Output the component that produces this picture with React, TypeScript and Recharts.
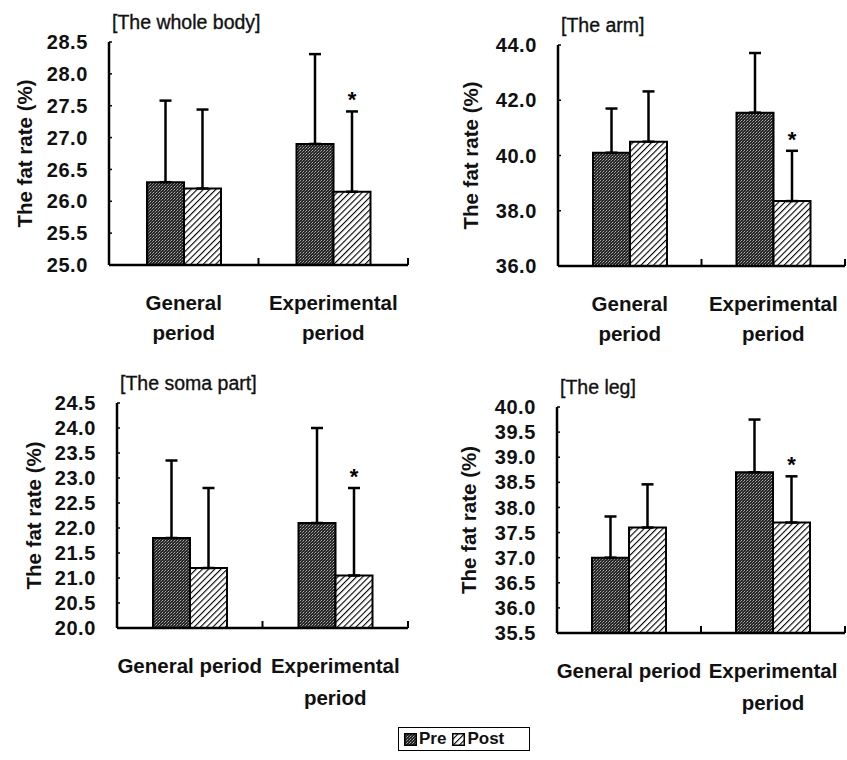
import * as React from "react";
import { BarChart, Bar, XAxis, YAxis, ErrorBar, LabelList } from "recharts";

const FONT = '"Liberation Sans", Arial, Helvetica, sans-serif';

const categories = ["General period", "Experimental period"];
const signif = ["", "*"];

// fat rate (%) means and SD, pre / post
const bodyPre = [26.3, 26.9];
const bodyPreSd = [1.28, 1.41];
const bodyPost = [26.2, 26.15];
const bodyPostSd = [1.24, 1.26];
const bodyTicks = [25.0, 25.5, 26.0, 26.5, 27.0, 27.5, 28.0, 28.5];

const armPre = [40.1, 41.55];
const armPreSd = [1.6, 2.16];
const armPost = [40.5, 38.35];
const armPostSd = [1.82, 1.82];
const armTicks = [36.0, 38.0, 40.0, 42.0, 44.0];

const somaPre = [21.8, 22.1];
const somaPreSd = [1.55, 1.9];
const somaPost = [21.2, 21.05];
const somaPostSd = [1.6, 1.75];
const somaTicks = [20.0, 20.5, 21.0, 21.5, 22.0, 22.5, 23.0, 23.5, 24.0, 24.5];

const legPre = [37.0, 38.7];
const legPreSd = [0.82, 1.05];
const legPost = [37.6, 37.7];
const legPostSd = [0.86, 0.92];
const legTicks = [35.5, 36.0, 36.5, 37.0, 37.5, 38.0, 38.5, 39.0, 39.5, 40.0];

type Panel = {
  title: string;
  pre: number[];
  preSd: number[];
  post: number[];
  postSd: number[];
  ticks: number[];
  wrapFirst: boolean;
  box: { left: number; top: number; width: number; height: number };
  plot: { left: number; right: number; top: number; bottom: number };
  yTitleX: number;
};

const panels: Panel[] = [
  {
    title: "[The whole body]",
    pre: bodyPre, preSd: bodyPreSd, post: bodyPost, postSd: bodyPostSd,
    ticks: bodyTicks, wrapFirst: true,
    box: { left: 0, top: 0, width: 420, height: 360 },
    plot: { left: 109, right: 408, top: 42, bottom: 265 },
    yTitleX: 24,
  },
  {
    title: "[The arm]",
    pre: armPre, preSd: armPreSd, post: armPost, postSd: armPostSd,
    ticks: armTicks, wrapFirst: true,
    box: { left: 420, top: 0, width: 427, height: 360 },
    plot: { left: 138, right: 425, top: 45, bottom: 266 },
    yTitleX: 50,
  },
  {
    title: "[The soma part]",
    pre: somaPre, preSd: somaPreSd, post: somaPost, postSd: somaPostSd,
    ticks: somaTicks, wrapFirst: false,
    box: { left: 0, top: 360, width: 420, height: 360 },
    plot: { left: 117, right: 408, top: 43, bottom: 268 },
    yTitleX: 33,
  },
  {
    title: "[The leg]",
    pre: legPre, preSd: legPreSd, post: legPost, postSd: legPostSd,
    ticks: legTicks, wrapFirst: false,
    box: { left: 420, top: 360, width: 427, height: 360 },
    plot: { left: 137, right: 425, top: 47, bottom: 273 },
    yTitleX: 48,
  },
];

const X_AXIS_H = 80;

function Patterns() {
  return (
    <svg width={0} height={0} style={{ position: "absolute" }}>
      <defs>
        <pattern id="stipple" width={3} height={3} patternUnits="userSpaceOnUse">
          <rect width={3} height={3} fill="#262626" />
          <rect x={0} y={0} width={1} height={1} fill="#b0b0b0" />
          <rect x={2} y={1} width={1} height={1} fill="#8a8a8a" />
          <rect x={1} y={2} width={1} height={1} fill="#5a5a5a" />
        </pattern>
        <pattern
          id="hatch"
          width={4.4}
          height={4.4}
          patternUnits="userSpaceOnUse"
          patternTransform="rotate(45)"
        >
          <rect width={4.4} height={4.4} fill="#fff" />
          <line x1={0} y1={0} x2={0} y2={4.4} stroke="#000" strokeWidth={2.2} />
        </pattern>
      </defs>
    </svg>
  );
}

function FatPanel({ p }: { p: Panel }) {
  const min = p.ticks[0];
  const max = p.ticks[p.ticks.length - 1];
  const plotW = p.plot.right - p.plot.left;
  const plotH = p.plot.bottom - p.plot.top;
  const pxPerUnit = plotH / (max - min);

  const rows = categories.map((name, i) => ({
    name,
    pre: p.pre[i],
    preErr: [0, p.preSd[i]],
    post: p.post[i],
    postErr: [0, p.postSd[i]],
    mark: signif[i],
  }));

  const catTick = (props: any) => {
    const { x, payload, index } = props;
    const y = p.plot.bottom;
    const name: string = payload.value;
    const lines =
      index === 0 && !p.wrapFirst ? [name] : name.split(" ");
    const bx = x + plotW / 4;
    return (
      <g>
        <line x1={bx} y1={y - 7} x2={bx} y2={y} stroke="#000" strokeWidth={2} />
        {lines.map((t, k) => (
          <text
            key={k}
            x={x}
            y={y + 37 + k * (p.wrapFirst ? 30 : 32)}
            textAnchor="middle"
            dominantBaseline="central"
            fontFamily={FONT}
            fontWeight="bold"
            fontSize={20.5}
            fill="#111"
          >
            {t}
          </text>
        ))}
      </g>
    );
  };

  const star = (props: any) => {
    const vb = props.viewBox ?? props;
    const { index, value } = props;
    if (!value) return null;
    const cx = vb.x + vb.width / 2;
    const top = vb.y - p.postSd[index] * pxPerUnit;
    return (
      <text
        x={cx}
        y={top - 4}
        textAnchor="middle"
        fontFamily={FONT}
        fontWeight="bold"
        fontSize={22}
        fill="#000"
      >
        {value}
      </text>
    );
  };

  const yTitle = () => {
    const cy = p.plot.top + plotH / 2;
    return (
      <text
        x={p.yTitleX}
        y={cy}
        transform={`rotate(-90, ${p.yTitleX}, ${cy})`}
        textAnchor="middle"
        dominantBaseline="central"
        fontFamily={FONT}
        fontWeight="bold"
        fontSize={20.5}
        fill="#111"
      >
        The fat rate (%)
      </text>
    );
  };

  return (
    <div
      style={{
        position: "absolute",
        left: p.box.left,
        top: p.box.top,
        width: p.box.width,
        height: p.box.height,
      }}
    >
      <div
        style={{
          position: "absolute",
          left: p.plot.left + 3,
          top: p.plot.top - 31,
          fontFamily: FONT,
          fontSize: 19.5,
          color: "#111",
          whiteSpace: "nowrap",
          lineHeight: "22px",
          WebkitTextStroke: "0.35px #111",
        }}
      >
        {p.title}
      </div>
      <BarChart
        width={p.box.width}
        height={p.box.height}
        data={rows}
        margin={{
          top: p.plot.top,
          right: p.box.width - p.plot.right,
          left: 0,
          bottom: p.box.height - p.plot.bottom - X_AXIS_H,
        }}
        barGap={0}
        barSize={37}
      >
        <XAxis
          dataKey="name"
          height={X_AXIS_H}
          axisLine={{ stroke: "#000", strokeWidth: 2.5 }}
          tickLine={false}
          tickSize={0}
          tickMargin={0}
          tick={catTick}
          interval={0}
        />
        <YAxis
          type="number"
          domain={[min, max]}
          ticks={p.ticks}
          interval={0}
          width={p.plot.left}
          axisLine={{ stroke: "#000", strokeWidth: 2.5 }}
          tickLine={{ stroke: "#000", strokeWidth: 1.5 }}
          tickSize={-3}
          tickMargin={24}
          tickFormatter={(v: number) => v.toFixed(1)}
          tick={{
            fontFamily: FONT,
            fontWeight: "bold",
            fontSize: 20,
            fill: "#111",
            letterSpacing: 0.6,
          }}
          label={{ content: yTitle }}
        />
        <Bar
          dataKey="pre"
          fill="url(#stipple)"
          stroke="#000"
          strokeWidth={2}
          isAnimationActive={false}
        >
          <ErrorBar
            dataKey="preErr"
            direction="y"
            width={6}
            stroke="#000"
            strokeWidth={2.5}
            isAnimationActive={false}
          />
        </Bar>
        <Bar
          dataKey="post"
          fill="url(#hatch)"
          stroke="#000"
          strokeWidth={2}
          isAnimationActive={false}
        >
          <ErrorBar
            dataKey="postErr"
            direction="y"
            width={6}
            stroke="#000"
            strokeWidth={2.5}
            isAnimationActive={false}
          />
          <LabelList dataKey="mark" content={star} />
        </Bar>
      </BarChart>
    </div>
  );
}

function KeyBox() {
  const item = (fill: string, label: string) => (
    <span style={{ display: "inline-flex", alignItems: "center", marginRight: 6 }}>
      <svg width={13} height={13} style={{ marginRight: 2 }}>
        <rect x={0.75} y={0.75} width={11.5} height={11.5} fill={fill} stroke="#000" strokeWidth={1.5} />
      </svg>
      {label}
    </span>
  );
  return (
    <div
      style={{
        position: "absolute",
        left: 398,
        top: 727,
        width: 132,
        height: 24,
        border: "1.5px solid #000",
        boxSizing: "border-box",
        display: "flex",
        alignItems: "center",
        paddingLeft: 5,
        fontFamily: FONT,
        fontWeight: "bold",
        fontSize: 17,
        color: "#111",
        background: "#fff",
      }}
    >
      {item("url(#stipple)", "Pre")}
      {item("url(#hatch)", "Post")}
    </div>
  );
}

export default function App() {
  return (
    <div
      style={{
        position: "absolute",
        left: 0,
        top: 0,
        width: 847,
        height: 760,
        background: "#fff",
        overflow: "hidden",
      }}
    >
      <Patterns />
      {panels.map((p) => (
        <FatPanel key={p.title} p={p} />
      ))}
      <KeyBox />
    </div>
  );
}
